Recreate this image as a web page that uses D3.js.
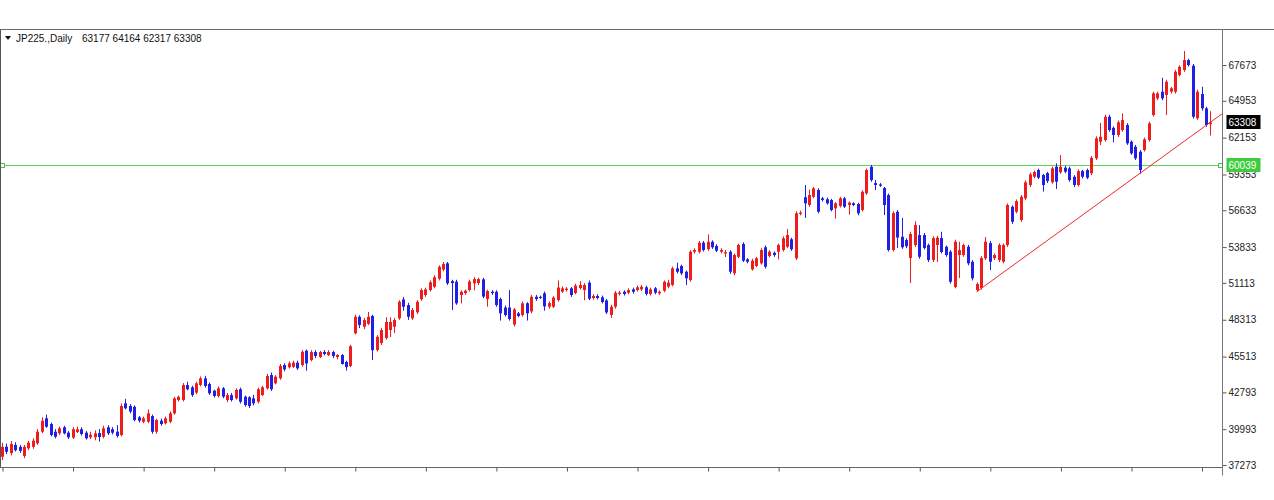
<!DOCTYPE html>
<html><head><meta charset="utf-8">
<script src="https://cdn.jsdelivr.net/npm/d3@7"></script>
<style>body{margin:0;background:#fff;} svg{display:block;font-family:"Liberation Sans",Arial,sans-serif;}</style>
</head><body><svg id="c" width="1274" height="500"></svg>
<script>
// ---- data ----
const openP=[37900,38660,38180,38800,38650,37960,38540,38660,38920,39800,40820,40390,39800,39680,40140,39730,39350,39780,39990,39730,39380,39380,39700,39420,40140,39990,39800,39550,41960,41760,41700,40900,40560,40560,40990,39800,40640,40440,40560,41200,42210,42210,43350,43180,42770,43350,43860,43430,42920,42520,43100,42210,42590,42340,43030,42460,42420,42340,42080,42590,43100,44110,43480,43860,44870,44700,44740,45050,44870,45960,45250,45860,45480,45860,45630,45860,45480,45630,45100,44800,47280,48540,47780,48000,48600,46010,46540,46920,47530,47780,48420,49860,49430,48420,48880,49870,50190,50570,50820,51430,52130,52600,51250,51200,50190,50340,50570,51080,51100,51380,49890,50440,50440,49890,49240,49240,47950,48800,48670,49560,48940,50060,50050,50320,49300,49300,49810,50450,50570,50700,50340,50720,50570,51130,49960,50120,50020,49780,48680,49300,50270,50440,50370,50620,50570,50620,50780,50270,50700,50320,50520,50830,50950,52220,52400,51960,51330,53480,53480,54170,53670,54240,53920,53480,53350,53480,51840,53100,54070,52900,52140,52400,52600,53820,53160,53400,53480,53610,53860,54430,52980,56350,57620,57030,57660,58170,57540,57470,57410,56780,56960,57540,57030,57160,57110,56650,57920,59940,58700,58600,58320,57790,53610,56520,54620,54370,53000,53990,54750,54750,53990,52850,53990,54520,53860,53480,50800,53230,53230,53860,52720,50570,50720,52980,54140,52990,52850,52720,53990,56900,56520,55890,57540,58550,59180,59690,59310,59460,58760,59940,59520,59870,59820,59180,58550,59610,59690,59440,60580,61840,61970,63740,62900,62350,62730,63110,61840,61460,61080,61210,61970,63870,65140,65640,65390,65650,65640,66910,67290,68050,67620,63620,65470,64380,63177];
const highP=[38950,38900,39100,39000,38800,38800,39100,39300,40000,40900,41100,40500,40000,40200,40250,39850,40150,40200,40150,39850,39800,39900,40000,40250,40300,40150,40300,41950,42300,41900,41800,41000,40950,41500,41100,40800,40800,40950,41350,42450,42550,43500,43600,43300,43600,44000,44050,43550,43000,43250,43200,42750,42750,43100,43150,42550,42500,42600,43150,43300,44200,44300,44100,44950,45000,45150,45200,45200,46000,46050,46000,46000,45950,46000,46000,45950,45700,45700,45200,46400,48700,48650,48450,48900,48700,47150,47700,48500,48500,48450,49800,50050,49600,49200,49800,50700,50750,51300,51700,52450,52700,52700,51350,51350,50550,50600,51350,51550,51500,51500,50600,50550,50550,50000,49400,50570,49200,48900,49700,49650,50200,50200,50150,50450,49700,50100,51300,50850,50800,50800,51050,51250,51100,51300,50250,50250,50150,49900,49450,50500,50500,50550,50700,50750,50900,50950,50900,50750,50800,50550,51300,51350,52350,52650,52500,52050,53600,53750,54300,54300,54800,54350,54050,53750,53610,53600,53350,54100,54200,53000,52950,53100,53750,53950,53600,53500,54100,54650,55200,54550,56550,56600,58550,58200,58400,58300,57650,57600,57500,57250,57650,57650,57300,57250,57200,58150,59800,60070,58930,58700,58400,57900,56550,56650,56050,54500,55000,55800,55500,54900,54100,54650,54700,55000,53950,53600,54400,54240,54100,54000,52850,51150,53150,54600,54300,53350,54120,54100,57150,57000,57450,57800,58900,59500,59650,59800,59400,59550,59950,60200,60830,60000,59950,59300,59750,59700,59800,60750,62250,63270,63900,63900,63000,63450,64000,63250,61950,61600,61200,62150,63350,65650,65650,66700,66550,66000,67300,67650,68740,68150,67750,65800,66020,64500,64164];
const lowP=[37650,38100,38000,38300,38200,37800,38400,38500,38800,39700,40100,39450,39300,39550,39600,39250,39250,39700,39500,39200,39250,39150,39050,39300,39550,39600,39350,39450,41500,41200,40600,40500,40450,40450,39650,39650,40250,40350,40450,41100,42100,42100,42950,42450,42650,43250,43150,42600,42400,42400,42350,42050,42100,42250,41950,41700,41600,41800,41950,42500,43000,42900,43400,43750,44400,44600,44650,44500,44750,44440,45150,45400,45400,45600,45550,45400,45300,44900,44450,44700,47200,47680,47600,47900,45250,45900,46400,46800,47000,47300,48300,49000,48300,48300,48750,49750,50050,50450,50700,51300,52000,50950,49050,49450,49550,50200,50450,50550,50950,49950,49300,50200,49300,48250,48550,48250,47800,48500,48550,48250,48800,49750,49900,49000,49150,49200,49700,50350,50450,50050,50250,50600,49800,49800,49850,49850,49550,48750,48450,49150,50150,50150,50250,50300,50450,50500,50150,50150,50250,50200,50400,50700,50850,51830,51700,50950,51200,53350,53350,53500,53550,53700,53450,53350,53080,51800,51700,53000,52700,52600,52050,52300,52500,52200,53050,53100,52900,53500,53750,53550,52850,56250,56050,56900,57550,56400,57300,57050,56550,56000,56850,56800,56300,56950,56250,56550,57800,58800,58170,58400,56270,53500,53500,53760,53700,53750,51100,53850,52950,53650,52700,52700,52700,53350,53100,51050,50700,51480,53100,52450,51300,50440,50600,52850,52090,52850,52700,52600,53850,55600,56400,55750,57400,58400,59050,59000,58050,58700,58650,58250,59400,59450,58800,58400,58450,59050,59000,59300,60450,61590,61850,62600,61800,62200,62600,61600,60850,60450,59400,61100,61850,63750,65000,65000,63870,65500,65500,66800,67150,67550,63600,63500,64200,62980,62317];
const closeP=[38660,38280,38870,38400,38350,38660,38970,39120,39800,40640,40180,39550,39420,40060,39680,39380,39990,39990,39630,39300,39580,39680,39400,40060,39680,39730,39480,41760,41580,41330,40690,40640,40820,41200,39800,40690,40390,40820,41200,42340,42460,43350,43030,42590,43480,43860,43280,42720,42520,43100,42470,42590,42210,42980,42080,41830,41760,41960,43030,43180,44040,43030,43990,44800,44540,45000,45050,44620,45880,44990,45860,45560,45860,45710,45860,45560,45630,44950,44720,46300,48540,47910,48290,48540,46000,47020,47530,48140,48140,48290,49680,49300,48540,49050,49680,50570,50620,51160,51540,52340,52540,51080,51100,49560,50440,50520,51220,51400,51400,50070,50500,50340,49430,48800,48670,48370,49100,48600,49560,48800,50060,49890,49990,49330,49580,50000,50760,50700,50680,50190,50910,50950,50950,49910,50120,49960,49660,48870,49300,50370,50370,50270,50570,50440,50780,50820,50270,50620,50370,50440,51200,51130,52220,51960,51840,51460,53480,53610,54170,53610,54240,53820,53560,53610,53450,51960,53230,54000,52800,52720,52800,52980,53610,52340,53480,53230,53990,54500,54750,53670,56400,56450,57160,57790,58300,56520,57410,57160,56650,57160,57540,56900,57210,57030,56400,58040,59690,58930,58550,58500,57030,53610,56420,54560,53820,53900,54830,55510,53100,53770,52850,54520,54550,53460,53230,51200,54240,53610,53990,52600,51460,51030,53000,54240,52720,53230,53990,53990,57030,55760,57330,57660,58760,59360,59540,59110,58550,58850,59820,58800,59940,59560,58930,58550,59610,59180,59110,60620,62100,62220,63740,62730,62350,63320,63490,61720,60960,60580,59690,62020,63240,65520,65520,65140,66400,65900,67160,67540,68050,67670,63740,65640,64380,63110,63308];
const yTickValues=[67673,64953,62153,59353,56633,53833,51113,48313,45513,42793,39993,37273];
const hLinePrice=60039;
const lastPrice=63308;
const trendIdx=[221,258];
const trendPrice=[50440,59430];
const symbolText="JP225.,Daily";
const ohlcText="63177 64164 62317 63308";
const barsPerXTick=16;

// ---- drawing ----
const svg=d3.select("#c");
const N=closeP.length;
const L=0.5,R=1222.5,T=29.5,B=467.5;
const x=d3.scaleLinear().domain([0,N-1]).range([2,2+4.41*(N-1)]);
const y=d3.scaleLinear().domain([37273,67673]).range([465,65]);
const UP="#ee1d1d", DN="#1f1fe6";

const clipId="plotclip";
svg.append("clipPath").attr("id",clipId).append("rect").attr("x",L).attr("y",T).attr("width",R-L).attr("height",B-T);
const g=svg.append("g").attr("clip-path","url(#"+clipId+")");

// horizontal line
const hy=Math.round(y(hLinePrice))+0.5;
g.append("line").attr("x1",L).attr("x2",R).attr("y1",hy).attr("y2",hy)
 .attr("stroke","#5fd35f").attr("stroke-width",1);

// candles
const cg=g.append("g");
d3.range(N).forEach(i=>{
  const o=openP[i],h=highP[i],l=lowP[i],c=closeP[i];
  const col=c>=o?UP:DN;
  const cx=Math.round(x(i));
  cg.append("line").attr("x1",cx+0.5).attr("x2",cx+0.5).attr("y1",y(h)).attr("y2",y(l)).attr("stroke",col).attr("stroke-width",1);
  const yt=y(Math.max(o,c)), yb=y(Math.min(o,c));
  cg.append("rect").attr("x",cx-1).attr("width",3).attr("y",yt).attr("height",Math.max(1,yb-yt)).attr("fill",col);
});

// trendline (ray)
const slope=(y(trendPrice[1])-y(trendPrice[0]))/(x(trendIdx[1])-x(trendIdx[0]));
const tx0=x(trendIdx[0]), ty0=y(trendPrice[0]);
g.append("line").attr("x1",tx0).attr("y1",ty0).attr("x2",R).attr("y2",ty0+slope*(R-tx0))
 .attr("stroke","#ee2a2a").attr("stroke-width",1);

// line end markers
[[L+2,hy],[R-2,hy]].forEach(p=>{
  svg.append("rect").attr("x",p[0]-2).attr("y",p[1]-2).attr("width",4).attr("height",4)
   .attr("fill","#fff").attr("stroke","#4cc54c").attr("stroke-width",1);
});

// frame
svg.append("line").attr("x1",0).attr("x2",1274).attr("y1",T).attr("y2",T).attr("stroke","#6a6a6a");
svg.append("line").attr("x1",L).attr("x2",L).attr("y1",T).attr("y2",B).attr("stroke","#555");

// x axis
const xAxis=d3.axisBottom(x).tickValues(d3.range(0,N,barsPerXTick)).tickSize(4).tickFormat("");
const xa=svg.append("g").attr("transform","translate(0,"+B+")").call(xAxis);
xa.select(".domain").remove();
xa.selectAll(".tick line").attr("stroke","#555").attr("transform","translate(0.5,0)");
svg.append("line").attr("x1",0).attr("x2",R).attr("y1",B).attr("y2",B).attr("stroke","#666");

// y axis
const yAxis=d3.axisRight(y).tickValues(yTickValues).tickSize(4).tickPadding(2).tickFormat(d=>String(d));
const ya=svg.append("g").attr("transform","translate("+R+",0)").call(yAxis);
ya.select(".domain").remove();
ya.selectAll(".tick line").attr("stroke","#555");
ya.selectAll(".tick text").attr("font-family","Liberation Sans, Arial, sans-serif").attr("font-size",10).attr("fill","#222");
svg.append("line").attr("x1",R).attr("x2",R).attr("y1",T).attr("y2",B+8).attr("stroke","#777");

// price labels
function priceLabel(v,bg){
  const cy=y(v);
  svg.append("rect").attr("x",R+4).attr("y",Math.round(cy)-7).attr("width",34).attr("height",14).attr("fill",bg);
  svg.append("text").attr("x",R+6).attr("y",cy).attr("dy","0.35em").attr("font-size",10).attr("fill","#fff").text(String(v));
}
priceLabel(lastPrice,"#000");
priceLabel(hLinePrice,"#3ecb3e");

// title
svg.append("path").attr("d","M5,36 L11,36 L8,40 Z").attr("fill","#111");
svg.append("text").attr("x",16).attr("y",42).attr("font-size",10).attr("fill","#111").text(symbolText);
svg.append("text").attr("x",82).attr("y",42).attr("font-size",10).attr("fill","#111").text(ohlcText);
</script></body></html>
